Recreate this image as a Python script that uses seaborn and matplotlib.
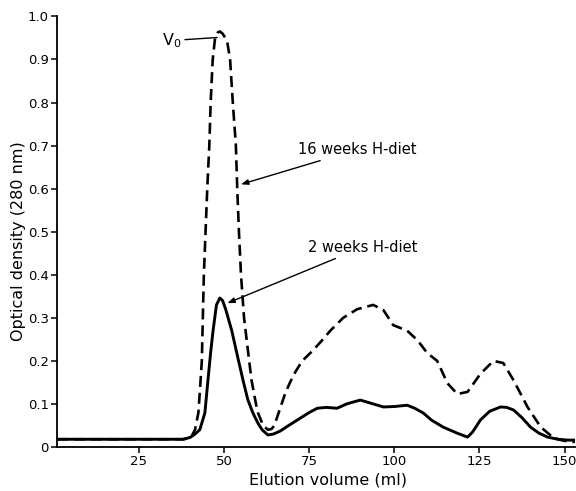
import matplotlib
matplotlib.use('Agg')
import matplotlib.pyplot as plt
import seaborn as sns

# Curvas de eluição
vol_2sem = [1, 38, 40, 41.5, 42.9, 44.4, 45.3, 46.1, 46.8, 47.8, 48.8, 49.6, 50.5, 52.3,
            54, 55.6, 57, 58.5, 60, 61.2, 62.9, 64.5, 66.5, 69, 72.4, 75, 77.4, 80,
            83.2, 86, 90, 93, 96.8, 100, 103.8, 106, 108.5, 111, 114.4, 118.5, 121.5,
            123, 125.3, 128, 131.2, 133, 135, 137.5, 140, 142.5, 145, 148, 150.9, 153]
od_2sem = [0.018, 0.018, 0.022, 0.03, 0.04, 0.079, 0.155, 0.22, 0.27, 0.33, 0.346, 0.34,
           0.32, 0.27, 0.21, 0.155, 0.11, 0.079, 0.055, 0.04, 0.028, 0.03, 0.037,
           0.05, 0.067, 0.08, 0.09, 0.092, 0.09, 0.1, 0.109, 0.102, 0.093, 0.094,
           0.097, 0.09, 0.079, 0.062, 0.046, 0.032, 0.023, 0.035, 0.063, 0.083,
           0.093, 0.092, 0.086, 0.068, 0.046, 0.032, 0.023, 0.018, 0.016, 0.016]

vol_16sem = [1, 38, 39.5, 40.5, 41.5, 42.5, 43.1, 43.5, 43.8, 44.1, 44.6, 45.1, 45.7,
             46.1, 46.7, 47.4, 48.2, 48.8, 49.6, 50.9, 51.8, 52.6, 53.5, 53.9, 54.4,
             55, 55.9, 57.4, 58.1, 59.4, 60, 61.5, 62.9, 64, 64.8, 66.5, 68, 69.4,
             71, 73, 76.2, 78.5, 81.2, 85, 89.1, 93.8, 96.8, 99.7, 103.8, 106.8,
             109.7, 112.6, 115.6, 118.5, 121.5, 125.3, 129.1, 132, 135, 139.1, 143,
             146.8, 149.5, 151.8, 153]
od_16sem = [0.018, 0.018, 0.02, 0.025, 0.04, 0.08, 0.15, 0.2, 0.3, 0.4, 0.5, 0.6, 0.7,
            0.8, 0.9, 0.95, 0.963, 0.965, 0.96, 0.944, 0.9, 0.8, 0.7, 0.6, 0.5, 0.4,
            0.3, 0.2, 0.155, 0.1, 0.079, 0.05, 0.04, 0.042, 0.05, 0.09, 0.125, 0.15,
            0.175, 0.2, 0.225, 0.245, 0.27, 0.3, 0.32, 0.33, 0.318, 0.283, 0.27,
            0.248, 0.218, 0.2, 0.148, 0.123, 0.128, 0.17, 0.2, 0.195, 0.155, 0.093,
            0.046, 0.021, 0.015, 0.012, 0.012]

xticks = [25, 50, 75, 100, 125, 150]
yticks = [0, 0.1, 0.2, 0.3, 0.4, 0.5, 0.6, 0.7, 0.8, 0.9, 1.0]
ytick_labels = ['0', '0.1', '0.2', '0.3', '0.4', '0.5', '0.6', '0.7', '0.8', '0.9', '1.0']

sns.set_style('ticks')
plt.rcParams['font.family'] = ['DejaVu Sans']
plt.rcParams['text.color'] = 'black'
plt.rcParams['axes.labelcolor'] = 'black'

fig = plt.figure(figsize=(5.76, 4.91), dpi=100)
ax = fig.add_axes([0.099, 0.0896, 0.899, 0.877])

sns.lineplot(x=vol_2sem, y=od_2sem, color='black', lw=2.1, ax=ax)
sns.lineplot(x=vol_16sem, y=od_16sem, color='black', lw=1.9,
             linestyle=(0, (4.2, 2.2)), ax=ax)

ax.set_xlim(1, 153)
ax.set_ylim(0, 1.0)
ax.set_xticks(xticks)
ax.set_yticks(yticks)
ax.set_yticklabels(ytick_labels)
ax.tick_params(direction='out', length=4, width=1.1, labelsize=9.5, colors='black', pad=2)
sns.despine(ax=ax)
for s in ['left', 'bottom']:
    ax.spines[s].set_linewidth(1.3)
    ax.spines[s].set_color('black')

ax.set_xlabel('Elution volume (ml)', fontsize=11.5)
ax.set_ylabel('Optical density (280 nm)', fontsize=11.5)
ax.xaxis.set_label_coords(0.523, -0.06)
ax.yaxis.set_label_coords(-0.06, 0.478)

# Anotações
ax.annotate('V$_0$', xy=(48, 0.951), xytext=(37.6, 0.944), fontsize=11.5,
            ha='right', va='center',
            arrowprops=dict(arrowstyle='-', color='black', lw=1, shrinkA=0, shrinkB=0))
ax.annotate('16 weeks H-diet', xy=(55.0, 0.61), xytext=(71.8, 0.691), fontsize=10.5,
            ha='left', va='center',
            arrowprops=dict(arrowstyle='-|>,head_length=0.4,head_width=0.15',
                            color='black', lw=1, shrinkA=1, shrinkB=0))
ax.annotate('2 weeks H-diet', xy=(51.0, 0.334), xytext=(74.7, 0.464), fontsize=10.5,
            ha='left', va='center',
            arrowprops=dict(arrowstyle='-|>,head_length=0.4,head_width=0.15',
                            color='black', lw=1, shrinkA=1, shrinkB=0))

plt.savefig('out.png', dpi=100)
